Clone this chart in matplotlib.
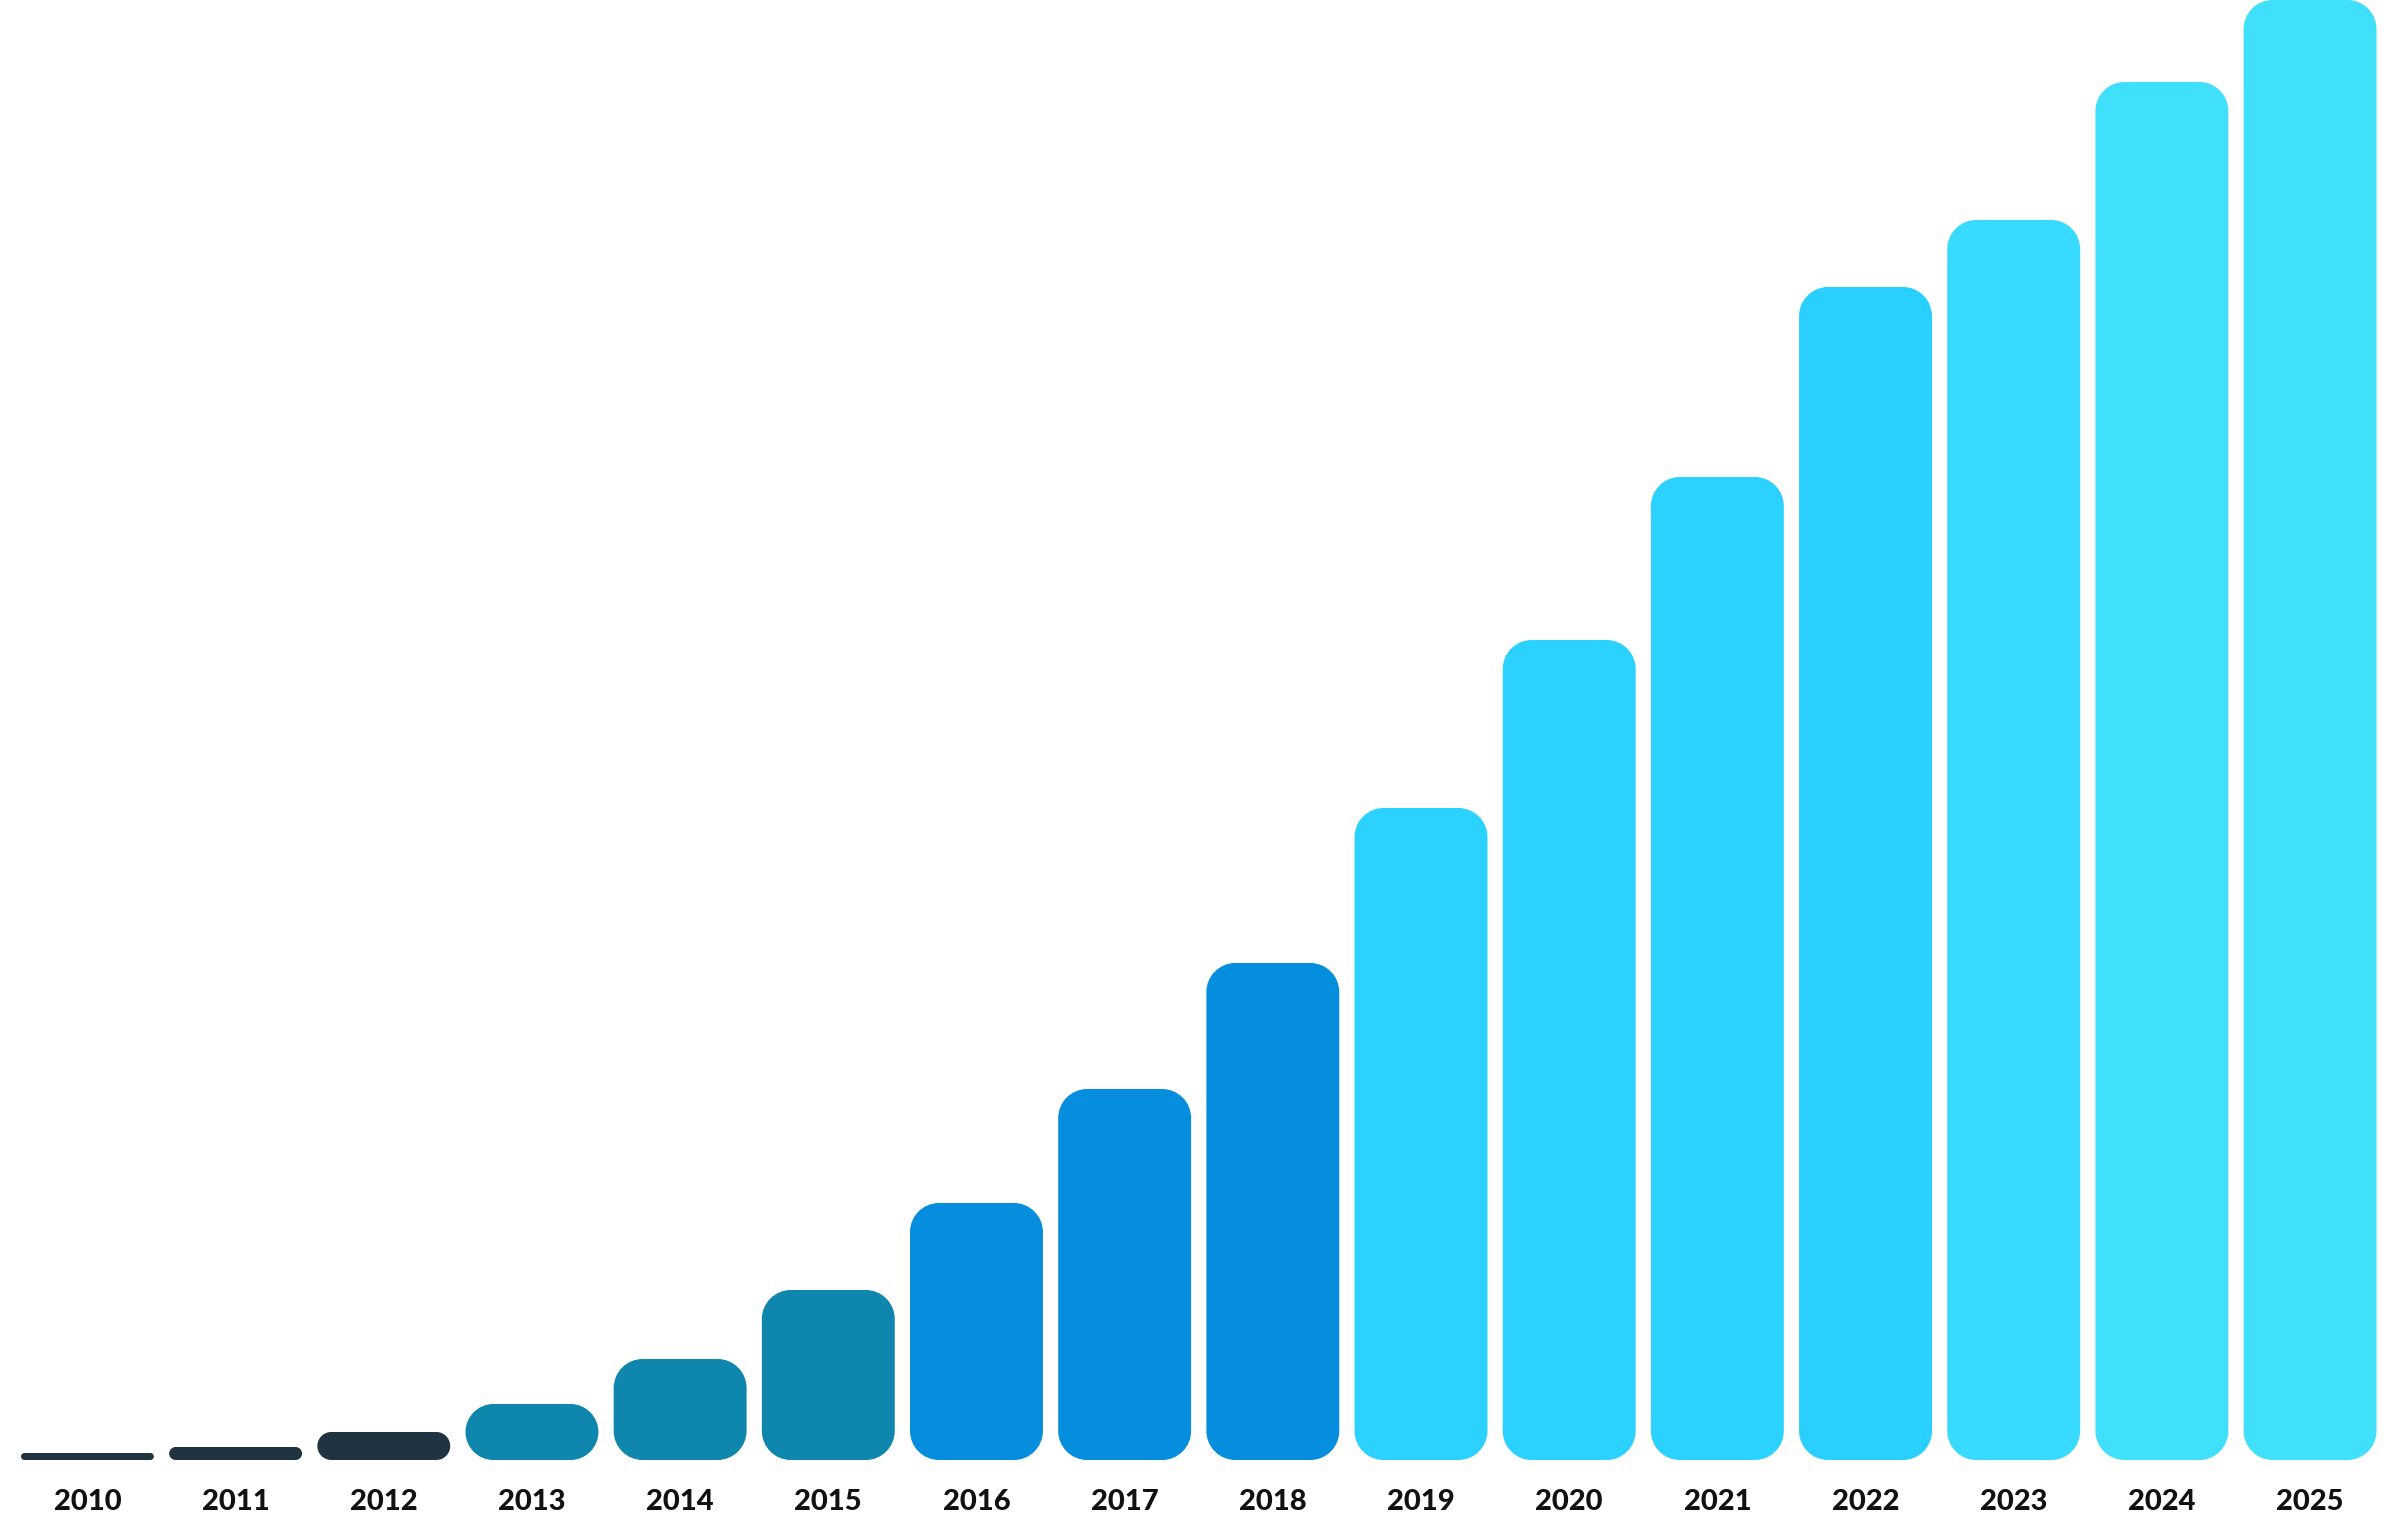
import matplotlib
matplotlib.use("Agg")
import matplotlib.pyplot as plt
import numpy as np
from matplotlib.patches import PathPatch
from matplotlib.path import Path

years = ["2010", "2011", "2012", "2013", "2014", "2015", "2016", "2017",
         "2018", "2019", "2020", "2021", "2022", "2023", "2024", "2025"]
values = [7, 13, 28, 56, 101, 170, 257, 371, 497, 652, 820, 983, 1173, 1240, 1378, 1460]
colors = ["#1f3340", "#1f3340", "#1f3340",
          "#0f86ae", "#0f86ae", "#0f86ae",
          "#048edd", "#048edd", "#048edd",
          "#2bd1ff", "#2bd1ff", "#2bd1ff",
          "#29cfff", "#38daff", "#40e0fc", "#40e0fc"]

W, H, DPI = 2400, 1514, 100
fig = plt.figure(figsize=(W / DPI, H / DPI), dpi=DPI)
fig.patch.set_facecolor("white")

base_px = 54
ax = fig.add_axes([0, base_px / H, 1, (H - base_px) / H])
x = np.arange(len(years))
xlim = (-0.59, 15.607)
ax.set_xlim(*xlim)
ax.set_ylim(0, max(values))
ax.axis("off")

bars = ax.bar(x, values, width=0.897, color=colors)

# pixels per data unit, so the corners come out as circles
px_x = W / (xlim[1] - xlim[0])
px_y = (H - base_px) / max(values)
radius_px = 29
K = 0.5523


def rounded_rect(x0, y0, w, h, rx, ry):
    x1, y1 = x0 + w, y0 + h
    verts = [
        (x0 + rx, y0), (x1 - rx, y0),
        (x1 - rx + K * rx, y0), (x1, y0 + ry - K * ry), (x1, y0 + ry),
        (x1, y1 - ry),
        (x1, y1 - ry + K * ry), (x1 - rx + K * rx, y1), (x1 - rx, y1),
        (x0 + rx, y1),
        (x0 + rx - K * rx, y1), (x0, y1 - ry + K * ry), (x0, y1 - ry),
        (x0, y0 + ry),
        (x0, y0 + ry - K * ry), (x0 + rx - K * rx, y0), (x0 + rx, y0),
        (x0 + rx, y0),
    ]
    codes = [Path.MOVETO, Path.LINETO,
             Path.CURVE4, Path.CURVE4, Path.CURVE4,
             Path.LINETO,
             Path.CURVE4, Path.CURVE4, Path.CURVE4,
             Path.LINETO,
             Path.CURVE4, Path.CURVE4, Path.CURVE4,
             Path.LINETO,
             Path.CURVE4, Path.CURVE4, Path.CURVE4,
             Path.CLOSEPOLY]
    return Path(verts, codes)


for rect in bars:
    x0, y0 = rect.get_x(), rect.get_y()
    w, h = rect.get_width(), rect.get_height()
    r = min(radius_px, h * px_y / 2, w * px_x / 2)
    patch = PathPatch(rounded_rect(x0, y0, w, h, r / px_x, r / px_y),
                      facecolor=rect.get_facecolor(), edgecolor="none",
                      clip_on=False)
    rect.remove()
    ax.add_patch(patch)

for xi, label in zip(x, years):
    ax.annotate(label, (xi, 0), xytext=(0, -42), textcoords="offset pixels",
                ha="center", va="center", fontsize=21, fontweight=900,
                family=["Lato", "DejaVu Sans"], color="#111111",
                annotation_clip=False)

fig.savefig("out.png", dpi=DPI, facecolor="white")
